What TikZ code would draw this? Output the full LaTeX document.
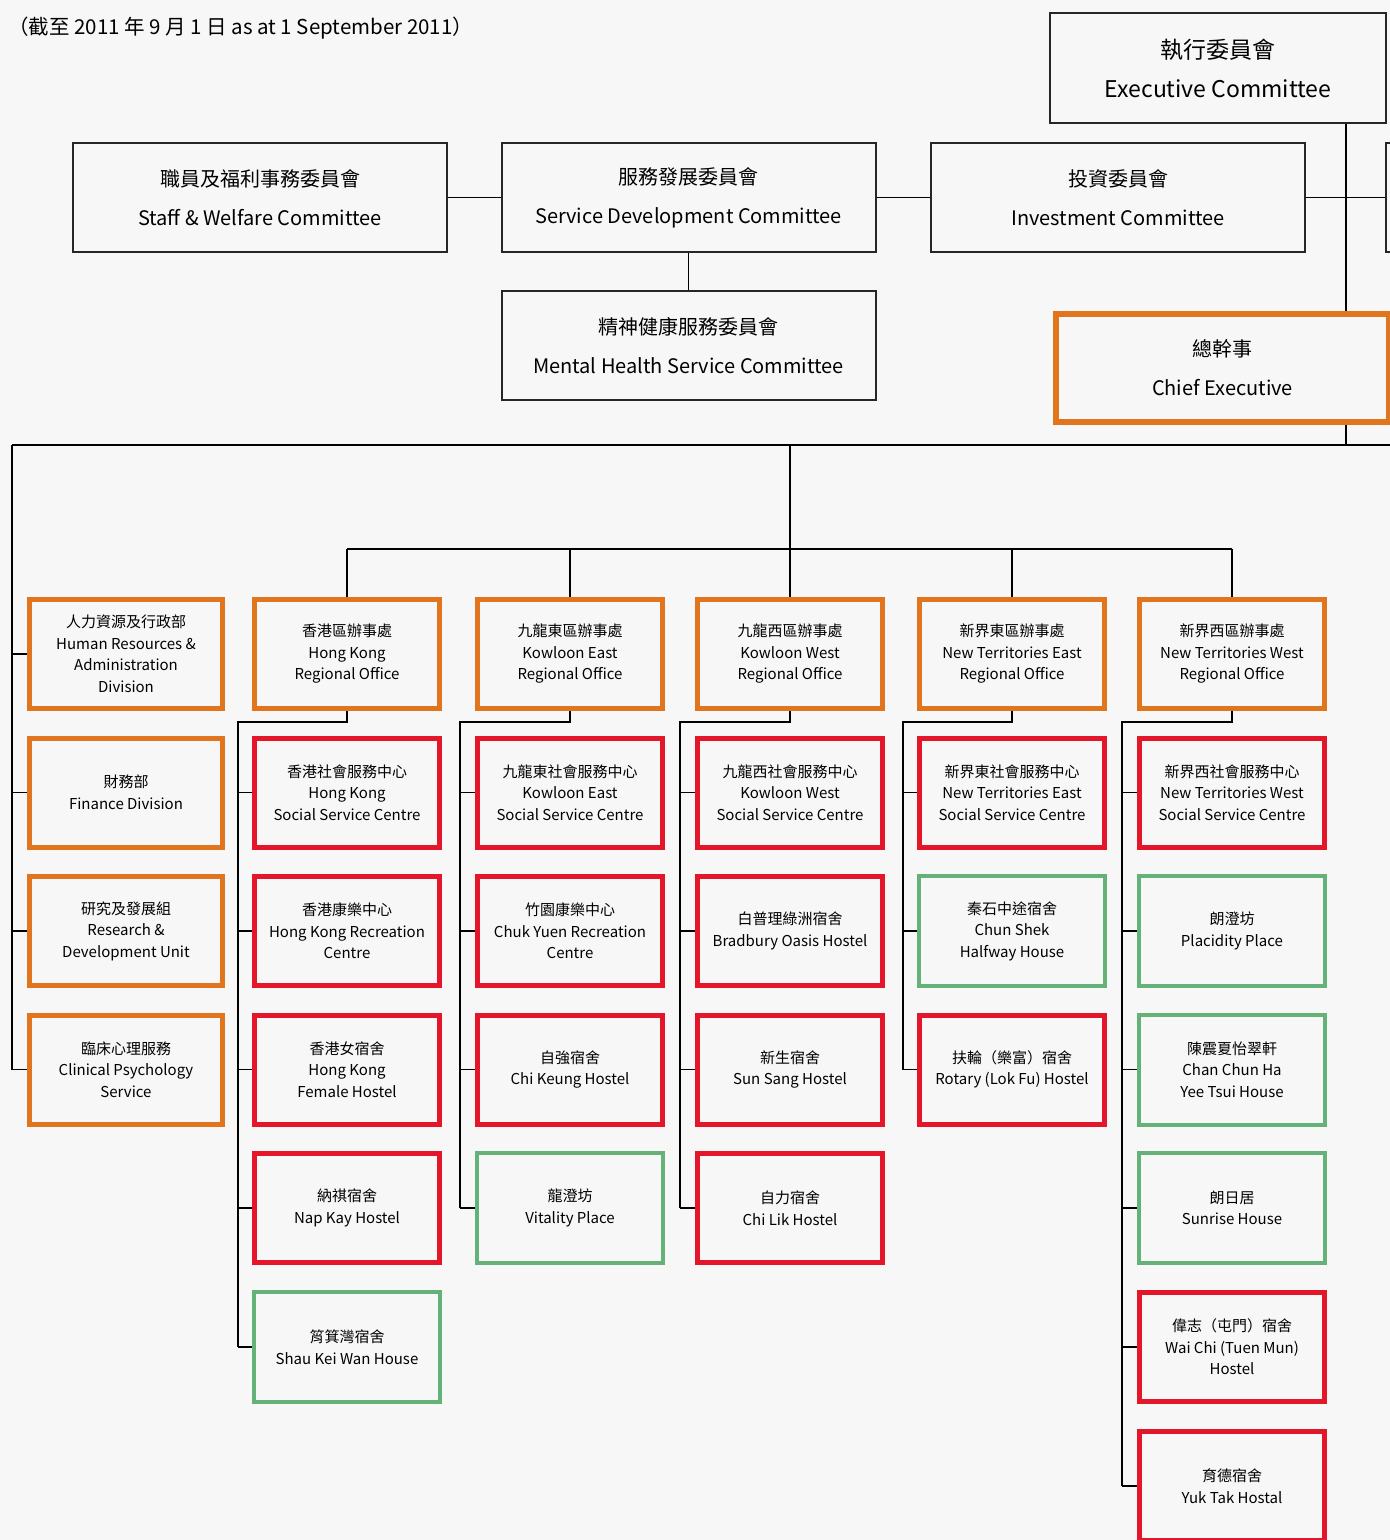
\documentclass[tikz,border=0pt]{standalone}
\usepackage{fontspec}
\setmainfont{Noto Sans CJK TC}

\definecolor{hkorange}{RGB}{225,117,30}
\definecolor{hkred}{RGB}{228,22,42}
\definecolor{hkgreen}{RGB}{100,178,120}
\definecolor{paper}{RGB}{247,247,247}

\begin{document}
\begin{tikzpicture}[%
    x=1pt, y=-1pt,
    caption/.style={%
      anchor=west,      % starts at its left end
      inner sep=0pt,
      font=\fontsize{20.5}{24}\selectfont
    },
    committee/.style={%
      rectangle,        % plain box
      draw=black!85,    % dark outline
      line width=2pt,   %              and thin
      minimum width=374pt,
      minimum height=109pt,
      align=center,     % align in center
      inner sep=0pt,
      font=\fontsize{20}{39}\selectfont
    },
    unit/.style={%
      rectangle,        % plain box
      minimum width=185pt,
      minimum height=109pt,
      align=center,     % align in center
      inner sep=0pt,
      font=\fontsize{15}{21.5}\selectfont
    },
    office/.style={%
      unit,             % unit style above
      draw=hkorange,    % outside edge in orange
      line width=5pt    %              and thick
    },
    division/.style={%
      office,           % office style above
      minimum width=193pt
    },
    centre/.style={%
      unit,             % unit style above
      draw=hkred,       % outside edge in red
      line width=5pt    %              and thick
    },
    house/.style={%
      unit,             % unit style above
      draw=hkgreen,     % outside edge in green
      line width=4pt,   %              a bit thinner
      minimum width=186pt,
      minimum height=110pt
    },
    link/.style={%
      draw=black,       % black lines
      line width=1.6pt  % no arrow heads
    },
    trunk/.style={%
      link,             % link style above
      line width=2.6pt  % a bit heavier
    }
]

    \useasboundingbox (0,0) rectangle (1390,1540);
    \fill[paper] (0,0) rectangle (1390,1540);

    % heading
    \node at (8,28) [caption] (asat)
      {（截至 2011 年 9 月 1 日 as at 1 September 2011）};

    % committees
    \node at (1218,68)    [committee, minimum width=336pt, minimum height=110pt,
                           font=\fontsize{23}{39}\selectfont] (exec)
      {執行委員會\\Executive Committee};
    \node at (260,197.5)  [committee] (staff)   {職員及福利事務委員會\\Staff \& Welfare Committee};
    \node at (688.5,197.5)[committee] (servdev) {服務發展委員會\\Service Development Committee};
    \node at (1118,197.5) [committee] (invest)  {投資委員會\\Investment Committee};
    \node at (1573,197.5) [committee] (extra)   {};
    \node at (688.5,345.5)[committee] (mental)  {精神健康服務委員會\\Mental Health Service Committee};
    \node at (1222.5,368) [committee, draw=hkorange, line width=6pt,
                           minimum width=333pt, minimum height=108pt] (chief)
      {總幹事\\Chief Executive};

    % divisions
    \node at (126,654)    [division] (hr)  {人力資源及行政部\\Human Resources \&\\Administration\\Division};
    \node at (126,792.5)  [division] (fin) {財務部\\Finance Division};
    \node at (126,931)    [division] (rnd) {研究及發展組\\Research \&\\Development Unit};
    \node at (126,1069.5) [division] (cps) {臨床心理服務\\Clinical Psychology\\Service};

    % Hong Kong
    \node at (347,654)    [office] (hkro)  {香港區辦事處\\Hong Kong\\Regional Office};
    \node at (347,792.5)  [centre] (hkssc) {香港社會服務中心\\Hong Kong\\Social Service Centre};
    \node at (347,931)    [centre] (hkrec) {香港康樂中心\\Hong Kong Recreation\\Centre};
    \node at (347,1069.5) [centre] (hkfh)  {香港女宿舍\\Hong Kong\\Female Hostel};
    \node at (347,1208)   [centre] (napkay){納祺宿舍\\Nap Kay Hostel};
    \node at (347,1347)   [house]  (skw)   {筲箕灣宿舍\\Shau Kei Wan House};

    % Kowloon East
    \node at (570,654)    [office] (kero)     {九龍東區辦事處\\Kowloon East\\Regional Office};
    \node at (570,792.5)  [centre] (kessc)    {九龍東社會服務中心\\Kowloon East\\Social Service Centre};
    \node at (570,931)    [centre] (chukyuen) {竹園康樂中心\\Chuk Yuen Recreation\\Centre};
    \node at (570,1069.5) [centre] (chikeung) {自強宿舍\\Chi Keung Hostel};
    \node at (570,1208)   [house]  (vitality) {龍澄坊\\Vitality Place};

    % Kowloon West
    \node at (790,654)    [office] (kwro)     {九龍西區辦事處\\Kowloon West\\Regional Office};
    \node at (790,792.5)  [centre] (kwssc)    {九龍西社會服務中心\\Kowloon West\\Social Service Centre};
    \node at (790,931)    [centre] (bradbury) {白普理綠洲宿舍\\Bradbury Oasis Hostel};
    \node at (790,1069.5) [centre] (sunsang)  {新生宿舍\\Sun Sang Hostel};
    \node at (790,1208)   [centre] (chilik)   {自力宿舍\\Chi Lik Hostel};

    % New Territories East
    \node at (1012,654)    [office] (ntero)    {新界東區辦事處\\New Territories East\\Regional Office};
    \node at (1012,792.5)  [centre] (ntessc)   {新界東社會服務中心\\New Territories East\\Social Service Centre};
    \node at (1012,931)    [house]  (chunshek) {秦石中途宿舍\\Chun Shek\\Halfway House};
    \node at (1012,1069.5) [centre] (rotary)   {扶輪（樂富）宿舍\\Rotary (Lok Fu) Hostel};

    % New Territories West
    \node at (1232,654)    [office] (ntwro)      {新界西區辦事處\\New Territories West\\Regional Office};
    \node at (1232,792.5)  [centre] (ntwssc)     {新界西社會服務中心\\New Territories West\\Social Service Centre};
    \node at (1232,931)    [house]  (placidity)  {朗澄坊\\Placidity Place};
    \node at (1232,1069.5) [house]  (chanchunha) {陳震夏怡翠軒\\Chan Chun Ha\\Yee Tsui House};
    \node at (1232,1208)   [house]  (sunrise)    {朗日居\\Sunrise House};
    \node at (1232,1347)   [centre] (waichi)     {偉志（屯門）宿舍\\Wai Chi (Tuen Mun)\\Hostel};
    \node at (1232,1486)   [centre] (yuktak)     {育德宿舍\\Yuk Tak Hostal};

    % junctions
    \coordinate (spine)    at (1346,445);
    \coordinate (west end) at (12,445);
    \coordinate (east end) at (1400,445);
    \coordinate (hub)      at (790,445);
    \coordinate (bar)      at (790,549);
    \coordinate (hk rail)  at (238,722);
    \coordinate (ke rail)  at (460,722);
    \coordinate (kw rail)  at (680,722);
    \coordinate (nte rail) at (903,722);
    \coordinate (ntw rail) at (1122,722);

    % committee connections
    \draw[link] (staff) -- (servdev);
    \draw[link] (servdev) -- (invest);
    \draw[link] (invest) -- (extra);
    \draw[link] (servdev) -- (mental);
    \draw[link] (exec.south -| spine) -- (chief.north -| spine);
    \draw[link] (chief.south -| spine) -- (spine);

    % main lines
    \draw[trunk] (west end) -- (east end);
    \draw[link] (hub) -- (bar);
    \draw[link] (hkro.north |- bar) -- (ntwro.north |- bar);
    \draw[link] (hkro.north |- bar)  -- (hkro);
    \draw[link] (kero.north |- bar)  -- (kero);
    \draw[link] (kwro.north |- bar)  -- (kwro);
    \draw[link] (ntero.north |- bar) -- (ntero);
    \draw[link] (ntwro.north |- bar) -- (ntwro);

    % divisions
    \draw[link] (west end) -- (west end |- cps.west);
    \draw[link]
      (west end |- hr.west)  -- (hr)
      (west end |- fin.west) -- (fin)
      (west end |- rnd.west) -- (rnd)
      (west end |- cps.west) -- (cps);

    % Hong Kong units
    \draw[link] (hkro) |- (hk rail) -- (hk rail |- skw.west);
    \draw[link]
      (hk rail |- hkssc.west)  -- (hkssc)
      (hk rail |- hkrec.west)  -- (hkrec)
      (hk rail |- hkfh.west)   -- (hkfh)
      (hk rail |- napkay.west) -- (napkay)
      (hk rail |- skw.west)    -- (skw);

    % Kowloon East units
    \draw[link] (kero) |- (ke rail) -- (ke rail |- vitality.west);
    \draw[link]
      (ke rail |- kessc.west)    -- (kessc)
      (ke rail |- chukyuen.west) -- (chukyuen)
      (ke rail |- chikeung.west) -- (chikeung)
      (ke rail |- vitality.west) -- (vitality);

    % Kowloon West units
    \draw[link] (kwro) |- (kw rail) -- (kw rail |- chilik.west);
    \draw[link]
      (kw rail |- kwssc.west)    -- (kwssc)
      (kw rail |- bradbury.west) -- (bradbury)
      (kw rail |- sunsang.west)  -- (sunsang)
      (kw rail |- chilik.west)   -- (chilik);

    % New Territories East units
    \draw[link] (ntero) |- (nte rail) -- (nte rail |- rotary.west);
    \draw[link]
      (nte rail |- ntessc.west)   -- (ntessc)
      (nte rail |- chunshek.west) -- (chunshek)
      (nte rail |- rotary.west)   -- (rotary);

    % New Territories West units
    \draw[link] (ntwro) |- (ntw rail) -- (ntw rail |- yuktak.west);
    \draw[link]
      (ntw rail |- ntwssc.west)     -- (ntwssc)
      (ntw rail |- placidity.west)  -- (placidity)
      (ntw rail |- chanchunha.west) -- (chanchunha)
      (ntw rail |- sunrise.west)    -- (sunrise)
      (ntw rail |- waichi.west)     -- (waichi)
      (ntw rail |- yuktak.west)     -- (yuktak);

\end{tikzpicture}
\end{document}
